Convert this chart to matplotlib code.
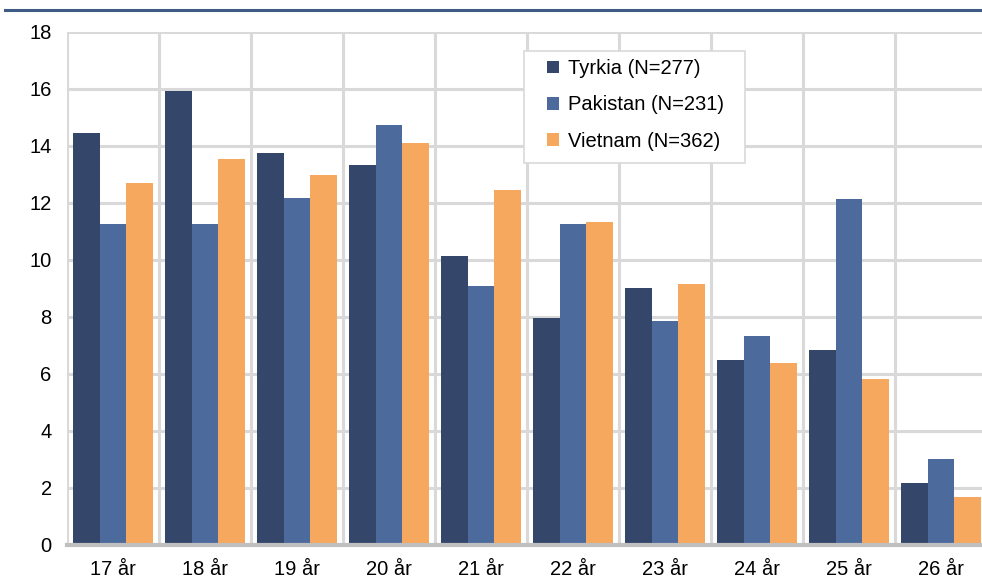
import matplotlib
matplotlib.use("Agg")
import matplotlib.pyplot as plt
import numpy as np
from matplotlib.lines import Line2D
from matplotlib.patches import Patch, Rectangle

plt.rcParams["font.family"] = ["Liberation Sans", "DejaVu Sans"]

# data (percent per age)
ages    = ["17 år", "18 år", "19 år", "20 år", "21 år", "22 år", "23 år", "24 år", "25 år", "26 år"]
tyrkia   = [14.45, 15.92, 13.75, 13.33, 10.13, 7.96, 9.00, 6.49, 6.84, 2.15]
pakistan = [11.23, 11.23, 12.15, 14.73, 9.08, 11.24, 7.83, 7.33, 12.14, 2.99]
vietnam  = [12.70, 13.54, 12.98, 14.10, 12.43, 11.30, 9.15, 6.36, 5.79, 1.66]
series_labels = ["Tyrkia (N=277)", "Pakistan (N=231)", "Vietnam (N=362)"]
y_ticks = [0, 2, 4, 6, 8, 10, 12, 14, 16, 18]

COLORS = ["#34466a", "#4d6a9d", "#f6a85e"]
GRID = "#d9d9d9"
W, H = 982, 579


def main():
    fig = plt.figure(figsize=(W / 100, H / 100), dpi=100)
    # plot area runs past the right edge, like the cropped original
    ax = fig.add_axes([67 / W, (H - 544.5) / H, 920 / W, 513 / H])

    x = np.arange(len(ages))
    bw = 0.29
    for k, (vals, col) in enumerate(zip([tyrkia, pakistan, vietnam], COLORS)):
        ax.bar(x + (k - 1) * bw, vals, width=bw, color=col, zorder=3)

    ax.set_xlim(-0.5, len(ages) - 0.5)
    ax.set_ylim(0, 18)
    ax.set_yticks(y_ticks)
    ax.set_xticks(x)
    ax.set_xticklabels(ages)
    ax.set_xticks(np.arange(len(ages) + 1) - 0.5, minor=True)

    ax.grid(axis="y", which="major", color=GRID, linewidth=2.2, zorder=0)
    ax.grid(axis="x", which="minor", color=GRID, linewidth=2.2, zorder=0)
    ax.grid(axis="x", which="major", visible=False)
    ax.set_axisbelow(True)

    for s in ["top", "right", "left"]:
        ax.spines[s].set_visible(False)
    ax.spines["bottom"].set_color("#bfbfbf")
    ax.spines["bottom"].set_linewidth(3)
    ax.spines["bottom"].set_zorder(4)

    ax.tick_params(axis="both", which="both", length=0, labelsize=14.5, colors="black")
    ax.tick_params(axis="y", pad=11)
    ax.tick_params(axis="x", pad=11)

    # legend: drawn frame + frameless legend inside it
    fig.add_artist(Rectangle((524 / W, (H - 163) / H), 221 / W, 112 / H,
                             transform=fig.transFigure, facecolor="white",
                             edgecolor=GRID, linewidth=1.2, zorder=5))
    handles = [Patch(facecolor=c) for c in COLORS]
    leg = fig.legend(handles, series_labels, loc="upper left",
                     bbox_to_anchor=(547 / W, (H - 59) / H), frameon=False,
                     fontsize=14.5, handlelength=0.6, handleheight=0.6,
                     handletextpad=0.45, labelspacing=0.86, borderpad=0,
                     borderaxespad=0)
    leg.set_zorder(6)

    # dark rule at the top
    fig.add_artist(Line2D([5 / W, 1], [(H - 9.5) / H] * 2, transform=fig.transFigure,
                          color="#3f5a85", linewidth=2.2))

    fig.savefig("out.png", dpi=100)
    plt.close(fig)


if __name__ == "__main__":
    main()
